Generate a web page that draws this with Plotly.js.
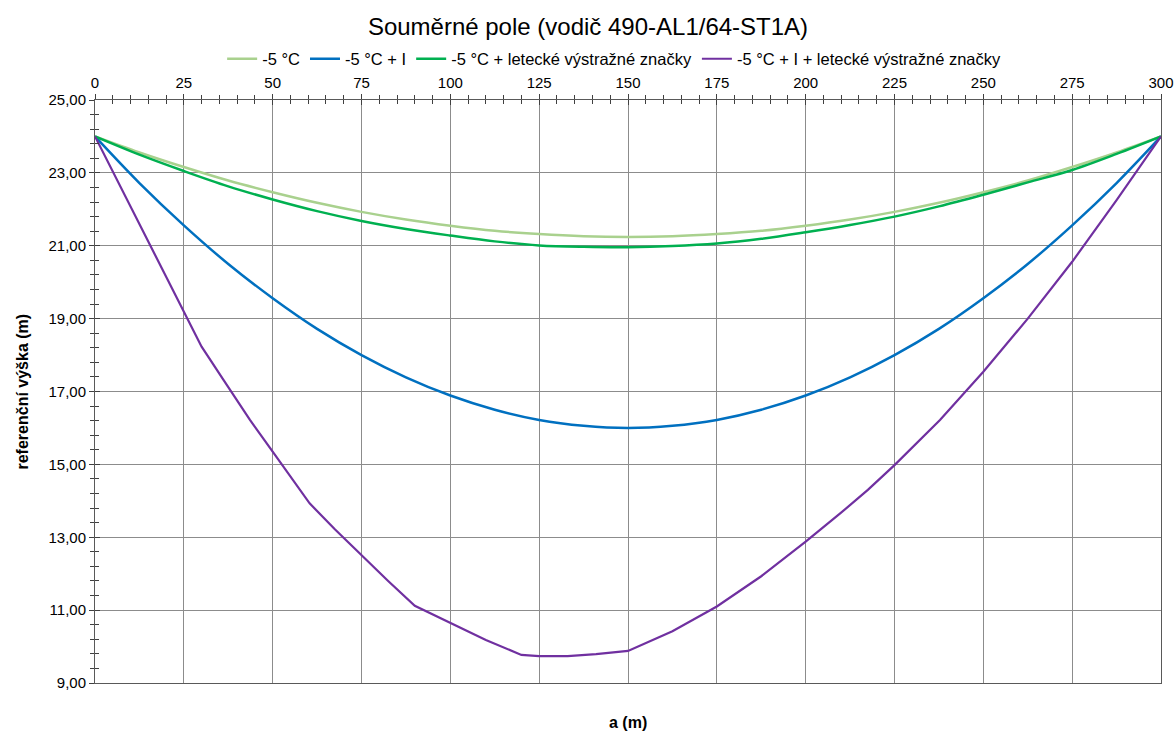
<!DOCTYPE html>
<html>
<head>
<meta charset="utf-8">
<script src="https://cdn.plot.ly/plotly-3.0.1.min.js"></script>
<style>html,body{margin:0;padding:0;background:#fff;}#chart{width:1176px;height:734px;}</style>
</head>
<body>
<div id="chart"></div>
<script>
// Series names
const seriesNames = ["-5 °C", "-5 °C + I", "-5 °C + letecké výstražné značky", "-5 °C + I + letecké výstražné značky"];

// Common x positions (m) for smooth curves
const xSmooth = [0, 12.5, 25, 37.5, 50, 62.5, 75, 87.5, 100, 112.5, 125, 137.5, 150, 162.5, 175, 187.5, 200, 212.5, 225, 237.5, 250, 262.5, 275, 287.5, 300];

// -5 °C
const yCold = [24.00, 23.56, 23.16, 22.79, 22.47, 22.18, 21.93, 21.72, 21.55, 21.41, 21.32, 21.26, 21.24, 21.26, 21.32, 21.41, 21.55, 21.72, 21.93, 22.18, 22.47, 22.79, 23.16, 23.56, 24.00];

// -5 °C + I
const yIce = [24.00, 22.72, 21.56, 20.50, 19.56, 18.72, 18.00, 17.39, 16.89, 16.50, 16.22, 16.06, 16.00, 16.06, 16.22, 16.50, 16.89, 17.39, 18.00, 18.72, 19.56, 20.50, 21.56, 22.72, 24.00];

// -5 °C + letecké výstražné značky
const yMarkers = [24.00, 23.50, 23.05, 22.63, 22.27, 21.95, 21.68, 21.46, 21.28, 21.12, 21.01, 20.97, 20.96, 20.99, 21.06, 21.19, 21.37, 21.57, 21.80, 22.08, 22.40, 22.74, 23.08, 23.52, 24.00];

// -5 °C + I + letecké výstražné značky (piecewise)
const xIceMarkers = [0, 17.5, 25, 30, 36.2, 43.6, 50, 60.4, 67.5, 75, 82.5, 90, 100, 110, 120, 125, 133, 141, 150, 162.5, 175, 187.5, 200, 209.8, 217.5, 225, 237.8, 250, 262.5, 275, 287.5, 300];
const yIceMarkers = [24.00, 20.61, 19.16, 18.23, 17.31, 16.22, 15.35, 13.93, 13.22, 12.50, 11.80, 11.12, 10.64, 10.18, 9.77, 9.74, 9.74, 9.79, 9.88, 10.42, 11.10, 11.93, 12.88, 13.66, 14.30, 14.98, 16.22, 17.54, 19.00, 20.56, 22.25, 24.00];

const colors = ["#a9d18e", "#0070c0", "#00b050", "#7030a0"];

const traces = [
  {x: xSmooth, y: yCold, name: seriesNames[0], mode: "lines", line: {color: colors[0], width: 2.5, shape: "spline"}},
  {x: xSmooth, y: yIce, name: seriesNames[1], mode: "lines", line: {color: colors[1], width: 2.5, shape: "spline"}},
  {x: xSmooth, y: yMarkers, name: seriesNames[2], mode: "lines", line: {color: colors[2], width: 2.5, shape: "spline"}},
  {x: xIceMarkers, y: yIceMarkers, name: seriesNames[3], mode: "lines", line: {color: colors[3], width: 2.2}},
  {x: [null], y: [null], xaxis: "x2", yaxis: "y2", showlegend: false, hoverinfo: "skip", mode: "lines"}
];

const font = "Liberation Sans, Arial, sans-serif";
const axCommon = {
  showline: true, linecolor: "#595959", linewidth: 1, mirror: true,
  gridcolor: "#8c8c8c", gridwidth: 1, zeroline: false,
  tickfont: {family: font, size: 15, color: "#000"},
  tickcolor: "#404040", ticklen: 5, ticks: "outside"
};

const layout = {
  width: 1176, height: 734,
  paper_bgcolor: "#fff", plot_bgcolor: "#fff",
  separators: ", ",
  margin: {l: 95, r: 15, t: 100, b: 51},
  font: {family: font, color: "#000"},
  title: {text: "Souměrné pole (vodič 490-AL1/64-ST1A)", font: {family: font, size: 24, color: "#000"},
          x: 0.5, xanchor: "center", y: 1 - 27/734, yanchor: "middle", yref: "container"},
  showlegend: true,
  legend: {orientation: "h", x: 0.487, xanchor: "center", y: (683 - 59) / 583, yanchor: "middle",
           font: {family: font, size: 16.5, color: "#000"}, bgcolor: "rgba(0,0,0,0)", itemwidth: 30, tracegroupgap: 0},
  xaxis: Object.assign({}, axCommon, {
    side: "top", range: [0, 300], tickmode: "linear", tick0: 0, dtick: 25,
    minor: {dtick: 5, tick0: 0, ticks: "outside", ticklen: 4, tickcolor: "#404040", showgrid: false},
    showgrid: true
  }),
  yaxis: Object.assign({}, axCommon, {
    range: [9, 25], tickmode: "linear", tick0: 9, dtick: 2, tickformat: ".2f",
    minor: {dtick: 0.4, tick0: 9, ticks: "outside", ticklen: 4, tickcolor: "#404040", showgrid: false},
    showgrid: true
  }),
  xaxis2: {overlaying: "x", side: "top", range: [0, 300], showgrid: false, zeroline: false, showline: false,
           showticklabels: false, tickmode: "linear", tick0: 0, dtick: 25, ticks: "inside", ticklen: 5, tickcolor: "#404040",
           minor: {dtick: 5, tick0: 0, ticks: "inside", ticklen: 4, tickcolor: "#404040", showgrid: false}},
  yaxis2: {overlaying: "y", side: "left", range: [9, 25], showgrid: false, zeroline: false, showline: false,
           showticklabels: false, tickmode: "linear", tick0: 9, dtick: 2, ticks: "inside", ticklen: 5, tickcolor: "#404040",
           minor: {dtick: 0.4, tick0: 9, ticks: "inside", ticklen: 4, tickcolor: "#404040", showgrid: false}},
  annotations: [
    {text: "<b>a (m)</b>", xref: "paper", yref: "paper", x: 0.5, y: -39/583, xanchor: "center", yanchor: "middle",
     showarrow: false, font: {family: font, size: 16, color: "#000"}},
    {text: "<b>referenční výška (m)</b>", xref: "paper", yref: "paper", x: -73/1066, y: 0.5, xanchor: "center", yanchor: "middle",
     textangle: -90, showarrow: false, font: {family: font, size: 16, color: "#000"}}
  ]
};

Plotly.newPlot("chart", traces, layout, {displayModeBar: false, staticPlot: true});
</script>
</body>
</html>
